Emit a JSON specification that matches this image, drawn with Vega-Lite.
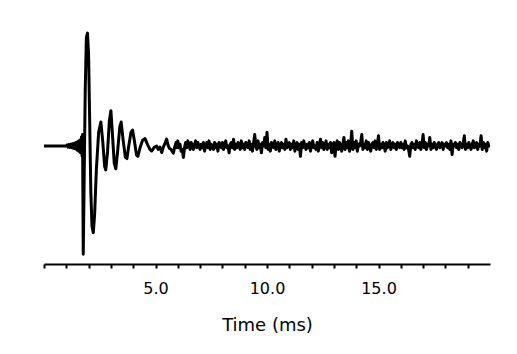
{
  "$schema": "https://vega.github.io/schema/vega-lite/v6.json",
  "width": 446,
  "height": 232,
  "padding": {"left": 42, "top": 31, "right": 5, "bottom": 5},
  "background": "white",
  "config": {"view": {"stroke": null}, "font": "'Comic Sans MS', 'DejaVu Sans', sans-serif"},
  "data": {"values": [
    {"t":0,"v":0},{"t":0.5,"v":0},{"t":1.0,"v":0},
    {"t":1.04,"v":0.01},{"t":1.08,"v":-0.01},{"t":1.12,"v":0.012},{"t":1.16,"v":-0.012},{"t":1.2,"v":0.015},{"t":1.24,"v":-0.015},{"t":1.28,"v":0.02},{"t":1.32,"v":-0.02},{"t":1.36,"v":0.025},{"t":1.4,"v":-0.025},{"t":1.44,"v":0.03},{"t":1.48,"v":-0.035},{"t":1.52,"v":0.04},{"t":1.56,"v":-0.045},{"t":1.6,"v":0.05},{"t":1.64,"v":-0.06},{"t":1.68,"v":0.08},{"t":1.71,"v":-0.09},{"t":1.73,"v":0.1},
    {"t":1.76,"v":-0.95},{"t":1.8,"v":-0.3},{"t":1.85,"v":0.5},{"t":1.9,"v":0.95},{"t":1.95,"v":0.99},{"t":2.0,"v":0.8},{"t":2.05,"v":0.2},{"t":2.1,"v":-0.4},{"t":2.15,"v":-0.7},{"t":2.21,"v":-0.76},{"t":2.27,"v":-0.6},{"t":2.35,"v":-0.2},{"t":2.45,"v":0.12},{"t":2.55,"v":0.21},{"t":2.63,"v":0.05},{"t":2.72,"v":-0.18},{"t":2.77,"v":-0.21},{"t":2.85,"v":-0.05},{"t":2.93,"v":0.22},{"t":3.0,"v":0.31},{"t":3.07,"v":0.1},{"t":3.15,"v":-0.15},{"t":3.22,"v":-0.2},{"t":3.3,"v":-0.05},{"t":3.4,"v":0.17},{"t":3.46,"v":0.21},{"t":3.55,"v":0.05},{"t":3.65,"v":-0.1},{"t":3.72,"v":-0.11},{"t":3.8,"v":0.0},{"t":3.9,"v":0.12},{"t":3.97,"v":0.14},{"t":4.05,"v":0.05},{"t":4.15,"v":-0.08},{"t":4.21,"v":-0.09},{"t":4.3,"v":-0.02},{"t":4.42,"v":0.05},{"t":4.53,"v":0.065},{"t":4.65,"v":0.01},{"t":4.75,"v":-0.03},{"t":4.83,"v":-0.044},{"t":4.95,"v":-0.01},{"t":5.05,"v":0.0},{"t":5.12,"v":-0.03},{"t":5.2,"v":-0.01},{"t":5.28,"v":-0.058},{"t":5.35,"v":-0.01},{"t":5.42,"v":0.02},{"t":5.5,"v":0.06},{"t":5.56,"v":0.01},{"t":5.62,"v":-0.02},{"t":5.7,"v":-0.03},{"t":5.8,"v":-0.064},{"t":5.86,"v":-0.01},{"t":5.92,"v":0.03},{"t":5.96,"v":-0.015},
    {"t":6.0,"v":0.045},{"t":6.05,"v":-0.015},{"t":6.1,"v":0.015},{"t":6.15,"v":-0.045},{"t":6.2,"v":-0.03},{"t":6.25,"v":-0.1},{"t":6.3,"v":-0.015},{"t":6.35,"v":0.03},{"t":6.4,"v":-0.015},{"t":6.45,"v":0.045},{"t":6.5,"v":0.015},{"t":6.55,"v":-0.03},{"t":6.6,"v":0.03},{"t":6.65,"v":0.0},{"t":6.7,"v":-0.03},{"t":6.75,"v":0.015},{"t":6.8,"v":0.045},{"t":6.85,"v":-0.015},{"t":6.9,"v":0.03},{"t":6.95,"v":0.0},
    {"t":7.0,"v":-0.03},{"t":7.05,"v":0.015},{"t":7.1,"v":-0.015},{"t":7.15,"v":0.03},{"t":7.2,"v":-0.045},{"t":7.25,"v":0.0},{"t":7.3,"v":0.03},{"t":7.35,"v":-0.015},{"t":7.4,"v":0.045},{"t":7.45,"v":-0.03},{"t":7.5,"v":0.015},{"t":7.55,"v":0.0},{"t":7.6,"v":-0.03},{"t":7.65,"v":0.03},{"t":7.7,"v":-0.015},{"t":7.75,"v":0.015},{"t":7.8,"v":-0.045},{"t":7.85,"v":0.03},{"t":7.9,"v":0.0},{"t":7.95,"v":-0.015},
    {"t":8.0,"v":0.03},{"t":8.05,"v":-0.03},{"t":8.1,"v":0.015},{"t":8.15,"v":0.045},{"t":8.2,"v":-0.015},{"t":8.25,"v":0.0},{"t":8.3,"v":-0.06},{"t":8.35,"v":0.015},{"t":8.4,"v":0.03},{"t":8.45,"v":-0.015},{"t":8.5,"v":0.06},{"t":8.55,"v":-0.03},{"t":8.6,"v":0.015},{"t":8.65,"v":-0.015},{"t":8.7,"v":0.03},{"t":8.75,"v":0.0},{"t":8.8,"v":-0.03},{"t":8.85,"v":0.045},{"t":8.9,"v":-0.015},{"t":8.95,"v":0.015},
    {"t":9.0,"v":-0.03},{"t":9.05,"v":0.03},{"t":9.1,"v":0.0},{"t":9.15,"v":-0.015},{"t":9.2,"v":0.045},{"t":9.25,"v":-0.03},{"t":9.3,"v":0.015},{"t":9.35,"v":-0.045},{"t":9.4,"v":0.03},{"t":9.45,"v":0.1},{"t":9.5,"v":0.0},{"t":9.55,"v":-0.03},{"t":9.6,"v":0.045},{"t":9.65,"v":-0.015},{"t":9.7,"v":0.015},{"t":9.75,"v":-0.06},{"t":9.8,"v":0.03},{"t":9.85,"v":0.0},{"t":9.9,"v":0.075},{"t":9.95,"v":-0.015},
    {"t":10.0,"v":0.12},{"t":10.05,"v":-0.03},{"t":10.1,"v":0.015},{"t":10.15,"v":-0.045},{"t":10.2,"v":0.03},{"t":10.25,"v":0.0},{"t":10.3,"v":-0.015},{"t":10.35,"v":0.045},{"t":10.4,"v":-0.03},{"t":10.45,"v":0.015},{"t":10.5,"v":0.03},{"t":10.55,"v":-0.045},{"t":10.6,"v":0.0},{"t":10.65,"v":0.03},{"t":10.7,"v":-0.015},{"t":10.75,"v":0.015},{"t":10.8,"v":-0.03},{"t":10.85,"v":0.06},{"t":10.9,"v":-0.015},{"t":10.95,"v":0.0},
    {"t":11.0,"v":0.03},{"t":11.05,"v":-0.03},{"t":11.1,"v":0.015},{"t":11.15,"v":-0.015},{"t":11.2,"v":0.045},{"t":11.25,"v":-0.045},{"t":11.3,"v":0.0},{"t":11.35,"v":0.03},{"t":11.4,"v":-0.03},{"t":11.45,"v":0.015},{"t":11.5,"v":-0.09},{"t":11.55,"v":0.03},{"t":11.6,"v":-0.015},{"t":11.65,"v":0.045},{"t":11.7,"v":0.0},{"t":11.75,"v":-0.03},{"t":11.8,"v":0.015},{"t":11.85,"v":-0.015},{"t":11.9,"v":0.03},{"t":11.95,"v":-0.045},
    {"t":12.0,"v":0.015},{"t":12.05,"v":0.045},{"t":12.1,"v":-0.015},{"t":12.15,"v":0.0},{"t":12.2,"v":-0.03},{"t":12.25,"v":0.03},{"t":12.3,"v":-0.045},{"t":12.35,"v":0.015},{"t":12.4,"v":0.06},{"t":12.45,"v":-0.015},{"t":12.5,"v":0.03},{"t":12.55,"v":-0.03},{"t":12.6,"v":0.0},{"t":12.65,"v":0.045},{"t":12.7,"v":-0.03},{"t":12.75,"v":0.015},{"t":12.8,"v":-0.015},{"t":12.85,"v":0.03},{"t":12.9,"v":-0.06},{"t":12.95,"v":0.015},
    {"t":13.0,"v":0.03},{"t":13.05,"v":-0.09},{"t":13.1,"v":0.015},{"t":13.15,"v":0.045},{"t":13.2,"v":-0.03},{"t":13.25,"v":0.03},{"t":13.3,"v":0.0},{"t":13.35,"v":-0.045},{"t":13.4,"v":0.015},{"t":13.45,"v":0.075},{"t":13.5,"v":-0.03},{"t":13.55,"v":0.03},{"t":13.6,"v":-0.015},{"t":13.65,"v":0.045},{"t":13.7,"v":-0.045},{"t":13.75,"v":0.015},{"t":13.8,"v":0.13},{"t":13.85,"v":-0.03},{"t":13.9,"v":0.03},{"t":13.95,"v":-0.015},
    {"t":14.0,"v":0.045},{"t":14.05,"v":-0.045},{"t":14.1,"v":0.015},{"t":14.15,"v":0.0},{"t":14.2,"v":0.03},{"t":14.25,"v":0.1},{"t":14.3,"v":-0.03},{"t":14.35,"v":0.015},{"t":14.4,"v":-0.015},{"t":14.45,"v":0.045},{"t":14.5,"v":-0.03},{"t":14.55,"v":0.03},{"t":14.6,"v":0.0},{"t":14.65,"v":-0.045},{"t":14.7,"v":0.015},{"t":14.75,"v":0.03},{"t":14.8,"v":-0.015},{"t":14.85,"v":0.045},{"t":14.9,"v":-0.03},{"t":14.95,"v":0.015},
    {"t":15.0,"v":0.09},{"t":15.05,"v":-0.03},{"t":15.1,"v":0.015},{"t":15.15,"v":-0.015},{"t":15.2,"v":0.03},{"t":15.25,"v":0.0},{"t":15.3,"v":-0.045},{"t":15.35,"v":0.03},{"t":15.4,"v":-0.015},{"t":15.45,"v":0.015},{"t":15.5,"v":0.045},{"t":15.55,"v":-0.03},{"t":15.6,"v":0.0},{"t":15.65,"v":0.03},{"t":15.7,"v":-0.015},{"t":15.75,"v":0.015},{"t":15.8,"v":-0.03},{"t":15.85,"v":0.03},{"t":15.9,"v":0.0},{"t":15.95,"v":-0.015},
    {"t":16.0,"v":0.03},{"t":16.05,"v":-0.015},{"t":16.1,"v":0.015},{"t":16.15,"v":-0.03},{"t":16.2,"v":0.045},{"t":16.25,"v":-0.015},{"t":16.3,"v":0.0},{"t":16.35,"v":-0.03},{"t":16.4,"v":-0.09},{"t":16.45,"v":0.015},{"t":16.5,"v":0.03},{"t":16.55,"v":-0.015},{"t":16.6,"v":0.015},{"t":16.65,"v":-0.03},{"t":16.7,"v":0.045},{"t":16.75,"v":0.0},{"t":16.8,"v":-0.015},{"t":16.85,"v":0.03},{"t":16.9,"v":-0.03},{"t":16.95,"v":0.015},
    {"t":17.0,"v":0.1},{"t":17.05,"v":-0.015},{"t":17.1,"v":0.03},{"t":17.15,"v":-0.03},{"t":17.2,"v":0.015},{"t":17.25,"v":0.0},{"t":17.3,"v":0.075},{"t":17.35,"v":-0.03},{"t":17.4,"v":0.015},{"t":17.45,"v":-0.015},{"t":17.5,"v":0.03},{"t":17.55,"v":0.0},{"t":17.6,"v":-0.03},{"t":17.65,"v":0.015},{"t":17.7,"v":0.03},{"t":17.75,"v":-0.015},{"t":17.8,"v":0.0},{"t":17.85,"v":0.03},{"t":17.9,"v":-0.03},{"t":17.95,"v":0.015},
    {"t":18.0,"v":0.0},{"t":18.05,"v":0.03},{"t":18.1,"v":-0.015},{"t":18.15,"v":0.015},{"t":18.2,"v":-0.03},{"t":18.25,"v":0.045},{"t":18.3,"v":-0.075},{"t":18.35,"v":0.015},{"t":18.4,"v":0.0},{"t":18.45,"v":0.03},{"t":18.5,"v":-0.015},{"t":18.55,"v":0.015},{"t":18.6,"v":-0.03},{"t":18.65,"v":0.03},{"t":18.7,"v":0.0},{"t":18.75,"v":-0.015},{"t":18.8,"v":0.03},{"t":18.85,"v":0.09},{"t":18.9,"v":-0.03},{"t":18.95,"v":0.015},
    {"t":19.0,"v":-0.015},{"t":19.05,"v":0.03},{"t":19.1,"v":0.0},{"t":19.15,"v":-0.03},{"t":19.2,"v":0.015},{"t":19.25,"v":0.045},{"t":19.3,"v":-0.015},{"t":19.35,"v":0.0},{"t":19.4,"v":0.03},{"t":19.45,"v":-0.03},{"t":19.5,"v":0.015},{"t":19.55,"v":0.0},{"t":19.6,"v":0.09},{"t":19.65,"v":-0.03},{"t":19.7,"v":0.03},{"t":19.75,"v":-0.015},{"t":19.8,"v":0.015},{"t":19.85,"v":-0.045},{"t":19.9,"v":0.03},{"t":19.95,"v":0.0},{"t":20.0,"v":0.0}
  ]},
  "mark": {"type": "line", "color": "black", "strokeWidth": 3, "strokeJoin": "round"},
  "encoding": {
    "x": {
      "field": "t", "type": "quantitative",
      "scale": {"domain": [0, 20], "nice": false, "zero": false},
      "axis": {
        "title": "Time (ms)",
        "values": [0,1,2,3,4,5,6,7,8,9,10,11,12,13,14,15,16,17,18,19],
        "labelExpr": "datum.value % 5 === 0 && datum.value > 0 ? format(datum.value, '.1f') : ''",
        "grid": false,
        "domainColor": "black", "domainWidth": 2,
        "tickColor": "black", "tickWidth": 2, "tickSize": 4,
        "labelColor": "black", "labelFontSize": 16, "labelPadding": 12,
        "labelFont": "'Comic Sans MS', 'DejaVu Sans', sans-serif",
        "titleColor": "black", "titleFontSize": 18, "titleFontWeight": "normal", "titlePadding": 20,
        "titleFont": "'Comic Sans MS', 'DejaVu Sans', sans-serif"
      }
    },
    "y": {
      "field": "v", "type": "quantitative",
      "scale": {"domain": [-1.035, 1.0], "nice": false, "zero": false},
      "axis": null
    }
  }
}
